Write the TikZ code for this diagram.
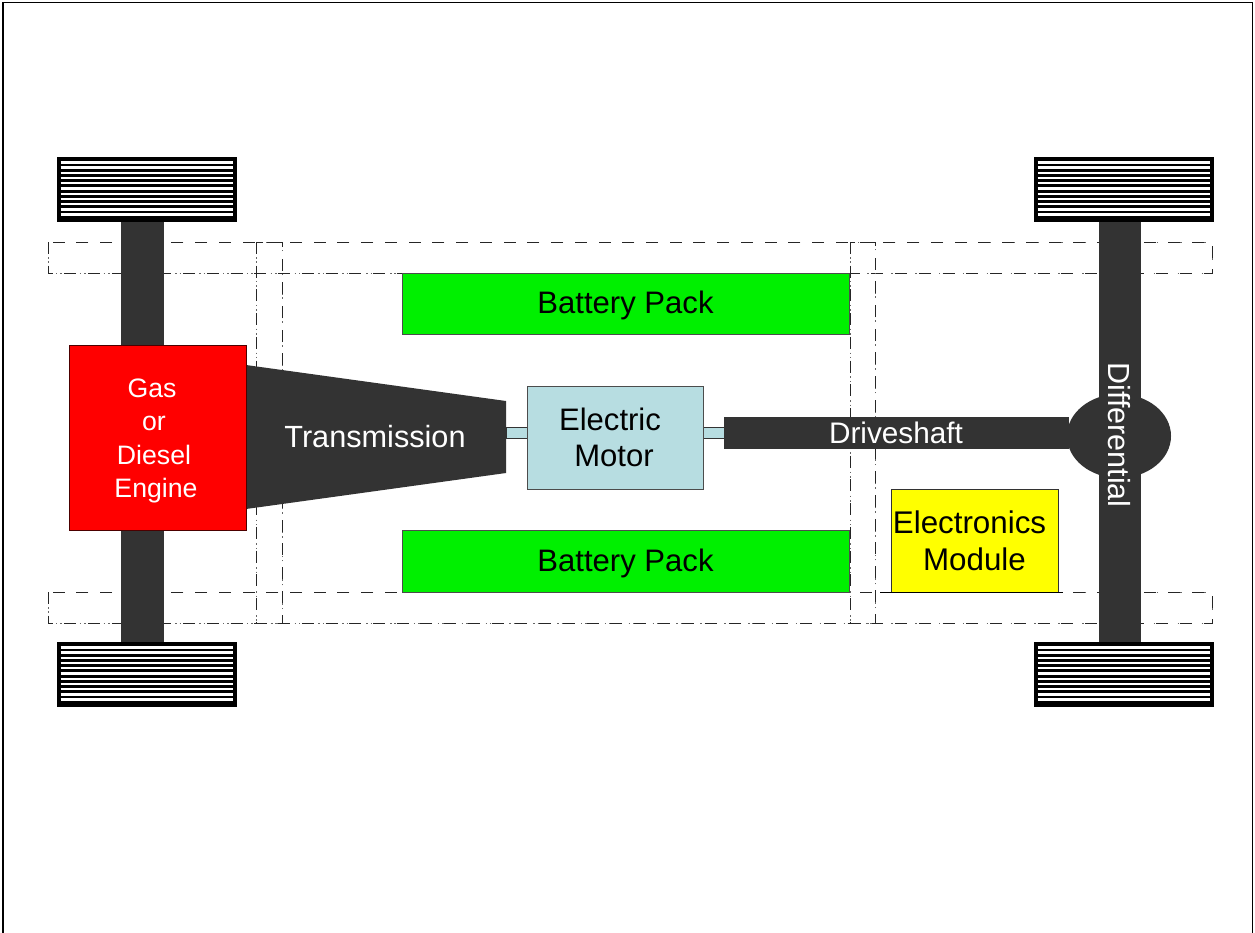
\documentclass[tikz,border=0pt]{standalone}
\usepackage{fontspec}
\setmainfont{Liberation Sans}
\definecolor{axlegray}{HTML}{333333}
\definecolor{motorblue}{HTML}{B7DDE1}
\definecolor{battgreen}{HTML}{00F000}
\definecolor{modyellow}{HTML}{FFFF00}
\definecolor{engred}{HTML}{FF0000}
\tikzset{
  x=0.75pt,y=-0.75pt,
  block/.style={draw=#1,line width=0.75pt,inner sep=0pt,outer sep=0pt,align=center,anchor=north west},
  axle/.style={fill=axlegray,draw=axlegray,line width=0.6pt},
  chassis/.style={
    preaction={draw=black!60,line width=0.65pt,dash pattern=on 0pt off 11.3pt on 1.1pt off 2.2pt on 1.1pt off 2.2pt},
    draw=black!85,line width=0.65pt,dash pattern=on 9pt off 8.8pt},
  label/.style={font=\fontsize{#1}{#1}\selectfont,inner sep=0pt},
}
\newcommand{\tyreat}[3]{%
  \node[inner sep=0pt,outer sep=0pt,minimum width=180*0.75pt,minimum height=65*0.75pt,anchor=north west,fill=black] (#3) at (#1,#2) {};
  \foreach \k in {0,...,10}{\draw[white,line width=1.7pt] (#1+4,#2+5.4+5.22*\k) -- ++(172,0);}
}
\begin{document}
\begin{tikzpicture}
\useasboundingbox (0,0) rectangle (1255,932);
\fill[white] (0,0) rectangle (1255,932);
\begin{scope}
\clip (0,0) rectangle (1255,932);
\draw[black,line width=0.9pt] (3,2.5) rectangle (1252.5,960);
\end{scope}
% chassis
\draw[chassis] (48,242) rectangle (1212,273);
\draw[chassis] (48,592) rectangle (1212,623);
\draw[chassis] (256,242) rectangle (282,623);
\draw[chassis] (850,242) rectangle (875,623);
% axles
\fill[axle] (121,221) rectangle (163,345);
\fill[axle] (121,530) rectangle (163,642);
\fill[axle] (1099,221) rectangle (1140,642);
% tyres
\tyreat{56.5}{157}{tyreNW}
\tyreat{1033.5}{157}{tyreNE}
\tyreat{56.5}{642}{tyreSW}
\tyreat{1033.5}{642}{tyreSE}
% shafts
\fill[motorblue,draw=axlegray,line width=0.5pt] (506,427) rectangle (527,438);
\fill[motorblue,draw=axlegray,line width=0.5pt] (703,427) rectangle (724,438);
% transmission
\fill[axlegray] (246,365) -- (506,401) -- (506,473) -- (246,509) -- cycle;
\node[label=23pt,text=white] (trans) at (375,437) {Transmission};
% engine
\node[block=black!70!red,fill=engred,minimum width=177*0.75pt,minimum height=185*0.75pt,text=white,font=\fontsize{20pt}{25pt}\selectfont] (engine) at (69,345) {\rule{0pt}{19pt}Gas\kern8.25pt\\or\kern5.25pt\\Diesel\kern5.25pt\\Engine\kern2.25pt};
% motor
\node[block=black!70,fill=motorblue,minimum width=176*0.75pt,minimum height=103*0.75pt,font=\fontsize{23.3pt}{27.5pt}\selectfont] (motor) at (527,386) {Electric\kern7.5pt\\Motor\kern1.5pt};
% batteries
\node[block=black!70,fill=battgreen,minimum width=447*0.75pt,minimum height=61*0.75pt,font=\fontsize{23.3pt}{24pt}\selectfont] (battA) at (402,273) {\rule{0pt}{20pt}Battery Pack};
\node[block=black!70,fill=battgreen,minimum width=447*0.75pt,minimum height=62*0.75pt,font=\fontsize{23.3pt}{24pt}\selectfont] (battB) at (402,530) {\rule{0pt}{20pt}Battery Pack};
% differential
\fill[axlegray] (1119,436) ellipse (52 and 42);
\fill[axle] (1099,342) rectangle (1140,530);
\node[label=22.9pt,text=white,rotate=-90] (diff) at (1119,435) {Differential};
% driveshaft
\node[block=axlegray,fill=axlegray,minimum width=344*0.75pt,minimum height=31*0.75pt,text=white,font=\fontsize{22.3pt}{24pt}\selectfont] (drive) at (724,417) {Driveshaft};
% electronics
\node[block=black!80,fill=modyellow,minimum width=167*0.75pt,minimum height=103*0.75pt,font=\fontsize{23.5pt}{27.5pt}\selectfont] (elec) at (891,489) {Electronics\kern7.5pt\\Module};
\coordinate (elecL) at (880,592);
\coordinate (elecR) at (1063,592);
\draw[black,line width=0.75pt] (elecL) -- (elecR);
\end{tikzpicture}
\end{document}
